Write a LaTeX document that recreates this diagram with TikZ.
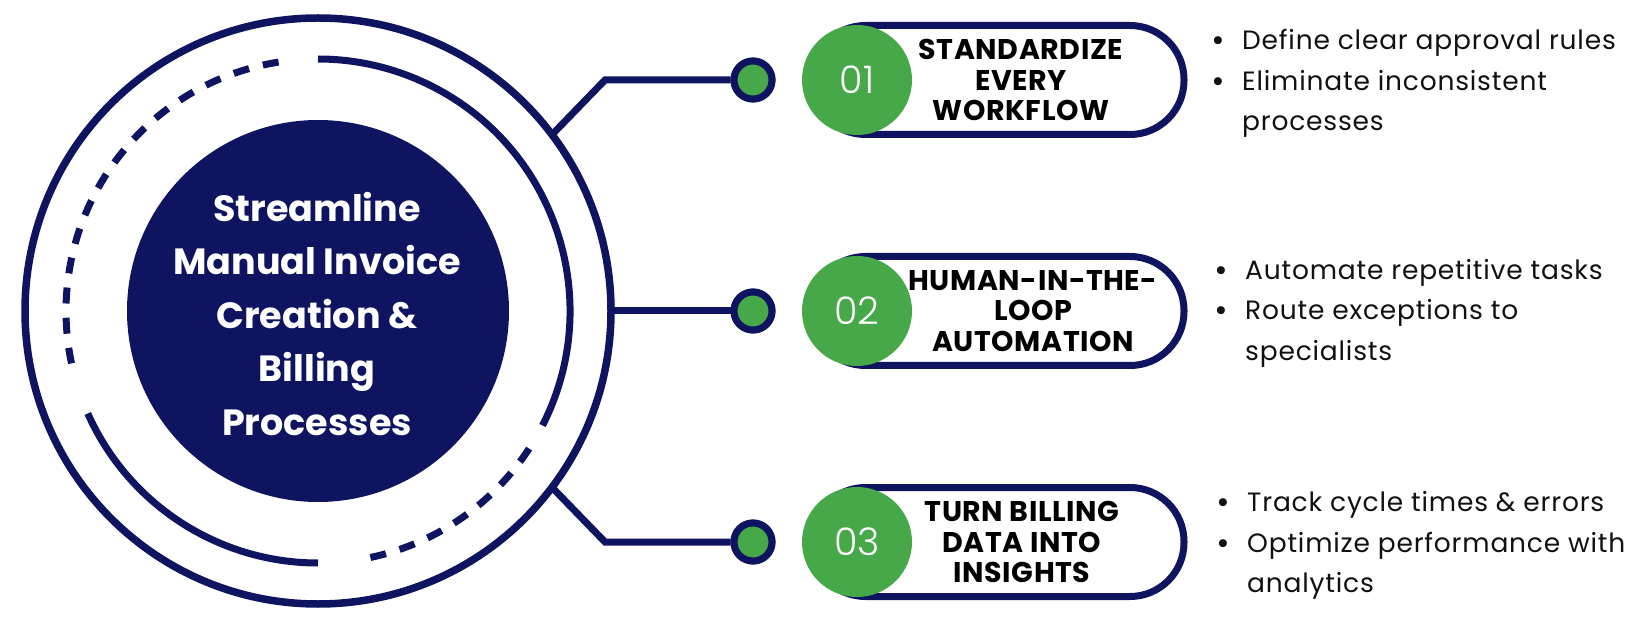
\documentclass[tikz,border=0pt]{standalone}
\usepackage{fontspec}
\setmainfont{Poppins}
\newfontfamily\numfont{Poppins Light}
\newfontfamily\bodyfont[LetterSpace=3]{Poppins}
\newfontfamily\headfont[LetterSpace=2]{Poppins}
\definecolor{navy}{RGB}{14,20,96}
\definecolor{leaf}{RGB}{71,168,74}
\definecolor{ink}{RGB}{17,17,17}
\begin{document}
\begin{tikzpicture}[x=1pt,y=-1pt,
  outerring/.style={circle,draw=navy,line width=7.5pt,minimum size=586pt,inner sep=0pt,outer sep=0pt},
  disc/.style={circle,fill=navy,minimum size=382pt,inner sep=0pt},
  maintitle/.style={text=white,font=\bfseries\fontsize{36.5}{53.5}\selectfont,align=center,inner sep=0pt},
  conn/.style={draw=navy,line width=7pt},
  ringline/.style={draw=navy,line width=7pt},
  ringdash/.style={draw=navy,line width=7pt,dash pattern=on 16pt off 14.25pt},
  knob/.style={circle,draw=navy,fill=leaf,line width=7pt,minimum size=38pt,inner sep=0pt},
  pill/.style={rectangle,draw=navy,line width=7pt,minimum width=372.5pt,minimum height=109pt,rounded corners=54pt,inner sep=0pt},
  badge/.style={circle,fill=leaf,minimum size=110pt,inner sep=0pt,text=white,font=\numfont\fontsize{38}{38}\selectfont},
  pillhead/.style={text=black,font=\headfont\bfseries\fontsize{28.5}{30.5}\selectfont,align=center,inner sep=0pt},
  bul/.style={text=ink,font=\bfseries\fontsize{26.5}{40.5}\selectfont,inner sep=0pt,anchor=base},
  bitem/.style={text=ink,font=\bodyfont\fontsize{26.5}{40.5}\selectfont,align=left,inner sep=0pt,anchor=base west}
]
\useasboundingbox (0,0) rectangle (1650,628);
\coordinate (C) at (318,311);

% connectors (under the circles)
\node[knob] (k1) at (753,80) {};
\node[knob] (k2) at (753,311) {};
\node[knob] (k3) at (753,542) {};
\node[outerring] (outer) at (C) {};
\coordinate (b1) at (605,80);
\coordinate (b3) at (605,542);
\draw[conn] (outer.37) -- (b1) -- (k1);
\draw[conn] (outer.east) -- (k2);
\draw[conn] (outer.-37) -- (b3) -- (k3);
\node[knob] at (k1) {};
\node[knob] at (k2) {};
\node[knob] at (k3) {};

% central disc
\node[disc] (core) at (C) {};
\node[maintitle] (ttl) at (317,314) {Streamline\\Manual Invoice\\Creation \&\\Billing\\Processes};

% inner ring: solid and dashed arcs
\draw[ringline] (core.center) ++(27:252) arc[start angle=27,end angle=-90,radius=252];
\draw[ringdash] (core.center) ++(-99:252) arc[start angle=-99,end angle=-192,radius=252];
\draw[ringline] (core.center) ++(-204:252) arc[start angle=-204,end angle=-270,radius=252];
\draw[ringdash] (core.center) ++(-282:252) arc[start angle=-282,end angle=-327,radius=252];

% pills
\node[pill] (p1) at (997.75,80) {};
\node[badge] (n1) at (857,80) {01};
\node[pillhead] (h1) at (1021,80) {STANDARDIZE\\EVERY\\WORKFLOW};

\node[pill] (p2) at (997.75,311) {};
\node[badge] (n2) at (857,311) {02};
\node[pillhead] (h2) at (1033,311) {HUMAN-IN-THE-\\LOOP\\AUTOMATION};

\node[pill] (p3) at (997.75,542) {};
\node[badge] (n3) at (857,542) {03};
\node[pillhead] (h3) at (1022,542) {TURN BILLING\\DATA INTO\\INSIGHTS};

% bullet lists (multi-line nodes are placed by their last baseline)
\node[bul] (g1a) at (1218,50) {•};
\node[bitem] (i1a) at (1242,50) {Define clear approval rules};
\node[bul] (g1b) at (1218,90.5) {•};
\node[bitem] (i1b) at (1242,131) {Eliminate inconsistent\\processes};

\node[bul] (g2a) at (1221,280) {•};
\node[bitem] (i2a) at (1245,280) {Automate repetitive tasks};
\node[bul] (g2b) at (1221,320) {•};
\node[bitem] (i2b) at (1245,360.5) {Route exceptions to\\specialists};

\node[bul] (g3a) at (1223,511) {•};
\node[bitem] (i3a) at (1247,511) {Track cycle times \& errors};
\node[bul] (g3b) at (1223,552) {•};
\node[bitem] (i3b) at (1247,592.5) {Optimize performance with\\analytics};
\end{tikzpicture}
\end{document}
